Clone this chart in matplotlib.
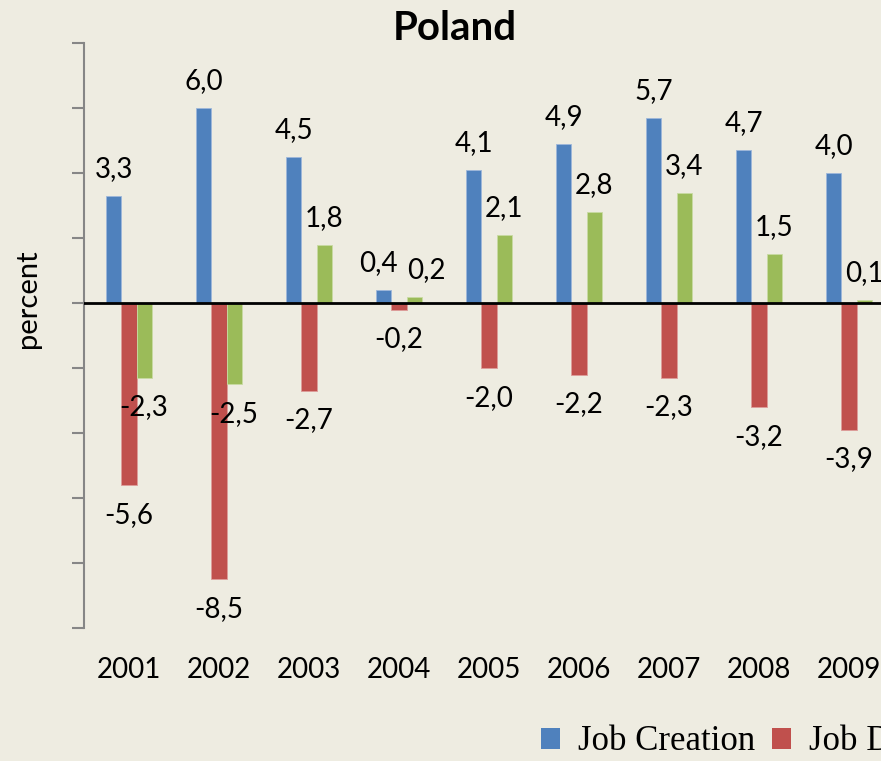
import matplotlib
matplotlib.use("Agg")
import matplotlib.pyplot as plt
from matplotlib.patches import Patch
import numpy as np

years = ["2001", "2002", "2003", "2004", "2005", "2006", "2007", "2008", "2009"]
job_creation = [3.3, 6.0, 4.5, 0.4, 4.1, 4.9, 5.7, 4.7, 4.0]
job_destruction = [-5.6, -8.5, -2.7, -0.2, -2.0, -2.2, -2.3, -3.2, -3.9]
net_change = [-2.3, -2.5, 1.8, 0.2, 2.1, 2.8, 3.4, 1.5, 0.1]
series_names = ["Job Creation", "Job Destruction", "Net Job Creation"]

BG = "#EEECE1"
COLORS = ["#4F81BD", "#C0504D", "#9BBB59"]
EDGES = ["#9DB7DB", "#DE9C9A", "#C8DBA3"]
plt.rcParams["font.family"] = ["Lato", "DejaVu Sans"]

fig = plt.figure(figsize=(8.81, 7.61), dpi=100, facecolor=BG)
ax = fig.add_axes([84 / 881, 1 - 628 / 761, 810 / 881, 585 / 761])
ax.set_facecolor(BG)

x = np.arange(len(years))
w = 0.167
# small nudges (points) for labels Excel moved apart
nudge = {(0, 3): -4, (2, 3): 9}

for i, vals in enumerate([job_creation, job_destruction, net_change]):
    pos = x + (i - 1) * w
    ax.bar(pos, vals, width=w, color=COLORS[i], edgecolor=EDGES[i], linewidth=0.6, zorder=2)
    for j, v in enumerate(vals):
        dx = nudge.get((i, j), 0)
        if v >= 0:
            ax.annotate(f"{v:.1f}".replace(".", ","), (pos[j], v), xytext=(dx, 10),
                        textcoords="offset points", ha="center", va="bottom",
                        fontsize=20, clip_on=False)
        else:
            ax.annotate(f"{v:.1f}".replace(".", ","), (pos[j], v), xytext=(dx, -12),
                        textcoords="offset points", ha="center", va="top",
                        fontsize=20, clip_on=False)

ax.set_xlim(-0.5, len(years) - 0.5)
ax.set_ylim(-10, 8)
ax.set_yticks(np.arange(-10, 9, 2))
ax.set_yticklabels([])
ax.axhline(0, color="black", lw=2, zorder=3)

ax.set_xticks(x)
ax.set_xticklabels(years, fontsize=20)
ax.tick_params(axis="x", length=0, pad=21)
ax.tick_params(axis="y", direction="out", length=9, width=1.5, color="#868686")

for s in ["top", "right", "bottom"]:
    ax.spines[s].set_visible(False)
ax.spines["left"].set_color("#868686")
ax.spines["left"].set_linewidth(1.5)

fig.text(455 / 881, 1 - 28 / 761, "Poland", ha="center", va="center",
         fontsize=29, fontweight="bold")
fig.text(28 / 881, 1 - 299 / 761, "percent", ha="center", va="center",
         rotation=90, fontsize=21)

handles = [Patch(facecolor=c, edgecolor="none") for c in COLORS]
fig.legend(handles, series_names, loc="center left", ncol=3,
           bbox_to_anchor=(510 / 881, 1 - 742 / 761), frameon=False,
           prop={"family": "Liberation Serif", "size": 25},
           handlelength=0.55, handleheight=0.55, handletextpad=0.5, columnspacing=0.5)

fig.savefig("out.png", dpi=100, facecolor=BG)
